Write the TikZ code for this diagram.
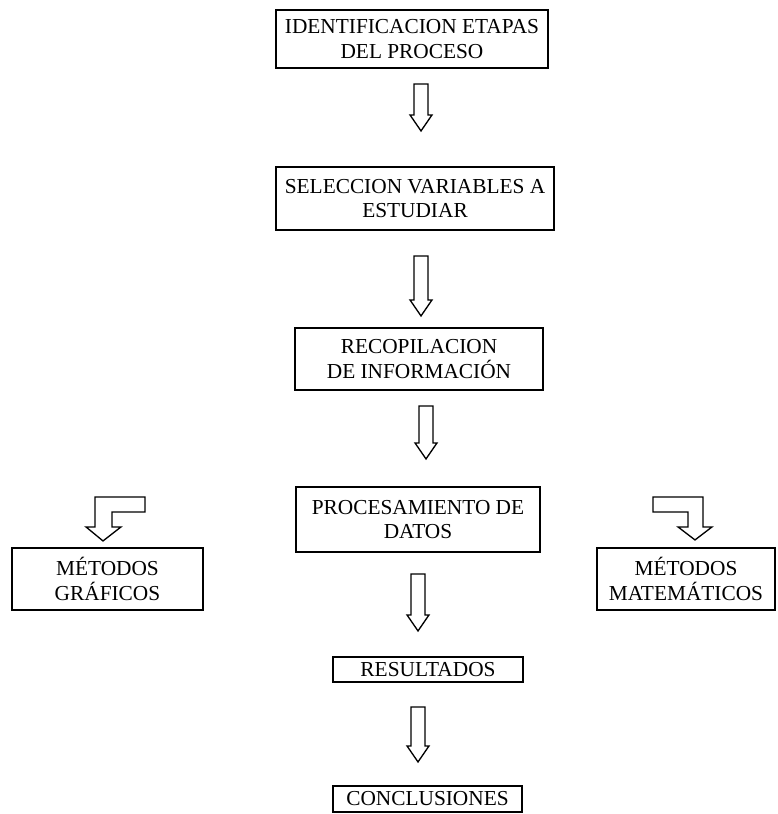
\documentclass[tikz,border=0pt]{standalone}
\usepackage{fontspec}
\setmainfont{Liberation Serif}
\usepackage{tikz}
\usetikzlibrary{positioning,calc}

% hollow block arrow: from node #1 down to node #2, x offset #3, gaps #4 (top) and #5 (bottom)
\newcommand{\flowarrow}[5]{%
  \coordinate (top) at ($(#1.south)+(#3,-#4)$);
  \coordinate (tip) at ($(top |- #2.north)+(0,#5)$);
  \draw[hollow] (tip) -- ++(11,16) -- ++(-4,0) |- (top) -- ++(-7,0)
    |- ($(tip)+(-7,16)$) -- ++(-4,0) -- cycle;
}

\begin{document}
\begin{tikzpicture}[x=0.75pt, y=0.75pt, line join=miter,
    every node/.style={font=\fontsize{16}{18.5}\selectfont, align=center},
    stepbox/.style={draw, line width=1.6pt, inner sep=0pt},
    hollow/.style={draw, line width=1pt, fill=white}]
  \def\px{0.75pt}
  \useasboundingbox (0,0) rectangle (778,-814);

  % main column
  \node[stepbox, minimum width=272*\px, minimum height=58*\px] (ident) at (412,-39)
    {IDENTIFICACION ETAPAS\\DEL PROCESO};
  \node[stepbox, minimum width=278*\px, minimum height=63*\px] (select) at (415,-198.5)
    {SELECCION VARIABLES A\\ESTUDIAR};
  \node[stepbox, minimum width=248*\px, minimum height=62*\px] (recop) at (419,-359)
    {RECOPILACION\\DE INFORMACIÓN};
  \node[stepbox, minimum width=244*\px, minimum height=65*\px] (proc) at (418,-519.5)
    {PROCESAMIENTO DE\\DATOS};
  \node[stepbox, minimum width=190*\px, minimum height=25*\px] (result) at (428,-669.5)
    {RESULTADOS};
  \node[stepbox, minimum width=189*\px, minimum height=26*\px] (concl) at (427.5,-799)
    {CONCLUSIONES};

  % side methods
  \node[stepbox, minimum width=191*\px, minimum height=62*\px] (graf) at (107.5,-579)
    {MÉTODOS\\GRÁFICOS};
  \node[stepbox, minimum width=178*\px, minimum height=62*\px] (mat) at (686,-579)
    {MÉTODOS\\MATEMÁTICOS};

  \flowarrow{ident}{select}{9}{15}{35}
  \flowarrow{select}{recop}{6}{25}{11}
  \flowarrow{recop}{proc}{7}{15}{27}
  \flowarrow{proc}{result}{0}{21}{25}
  \flowarrow{result}{concl}{-10}{24}{23}

  % bent arrows onto the method boxes
  \coordinate (gtip) at ($(graf.north)+(-4.5,6)$);
  \draw[hollow] (gtip) -- ++(18,14) -- ++(-9,0) -- ++(0,15) -- ++(33,0) -- ++(0,15)
    -- ++(-50,0) -- ++(0,-30) -- ++(-9,0) -- cycle;
  \coordinate (mtip) at ($(mat.north)+(9,7)$);
  \draw[hollow] (mtip) -- ++(17,13) -- ++(-9,0) -- ++(0,30) -- ++(-50,0) -- ++(0,-15)
    -- ++(35,0) -- ++(0,-15) -- ++(-10,0) -- cycle;
\end{tikzpicture}
\end{document}
